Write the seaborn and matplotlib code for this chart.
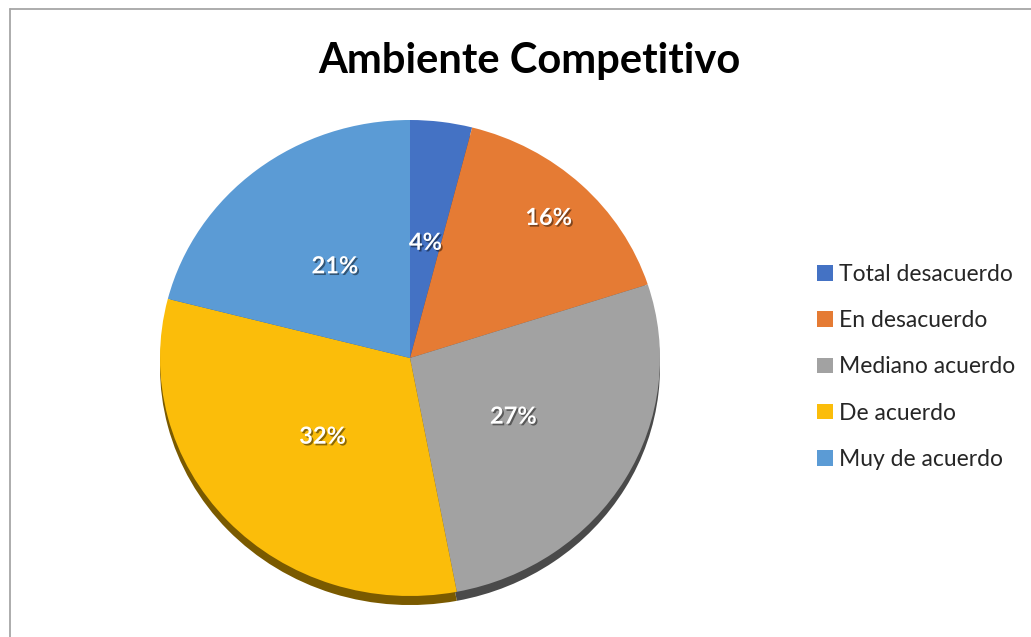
import numpy as np
import matplotlib
matplotlib.use("Agg")
import matplotlib.pyplot as plt
import matplotlib.patheffects as pe
from matplotlib.lines import Line2D
import seaborn as sns

categories = ["Total desacuerdo", "En desacuerdo", "Mediano acuerdo", "De acuerdo", "Muy de acuerdo"]
values = [4, 16, 27, 32, 21]
colors = ["#4472C4", "#E57B34", "#A2A2A2", "#FBBD0A", "#5B9BD5"]
shadow_colors = ["#25407a", "#8a4618", "#4a4a4a", "#7a5a00", "#2f5a86"]
label_dist = [0.49, 0.81, 0.48, 0.48, 0.49]

sns.set_theme(style="white")
plt.rcParams["font.family"] = ["Lato", "DejaVu Sans"]

W, H = 1031, 637
fig = plt.figure(figsize=(W / 100, H / 100), dpi=100)
fig.patch.set_facecolor("white")

# pie area in pixels: centre (410, 358), radii 250 x 238
cx, cy, rx, ry = 410, 358, 250, 238
xl, yl = 1.04, 1.12
ax = fig.add_axes([(cx - rx * xl) / W, (H - cy - ry * yl) / H,
                   2 * rx * xl / W, 2 * ry * yl / H])

# extruded rim underneath the top face
ax.pie(values, colors=shadow_colors, startangle=90, counterclock=False,
       center=(0, -0.038), radius=1.0,
       wedgeprops=dict(linewidth=0, zorder=1))
wedges, _ = ax.pie(values, colors=colors, startangle=90, counterclock=False,
                   radius=1.0, wedgeprops=dict(linewidth=0, zorder=2))
ax.set_aspect("auto")
ax.set_xlim(-xl, xl)
ax.set_ylim(-yl, yl)
ax.axis("off")

# percentage labels at each wedge's mid angle
total = sum(values)
start = 90.0
for v, d in zip(values, label_dist):
    span = 360.0 * v / total
    mid = np.deg2rad(start - span / 2)
    start -= span
    ax.text(d * np.cos(mid), d * np.sin(mid), f"{v}%", color="white",
            fontsize=17, fontweight="bold", ha="center", va="center", zorder=5,
            path_effects=[pe.SimplePatchShadow(offset=(1.2, -1.2), shadow_rgbFace="black", alpha=0.45),
                          pe.Normal()])

fig.text(529 / W, 1 - 73 / H, "Ambiente Competitivo", fontsize=30, fontweight="bold",
         ha="center", va="baseline", color="black")

leg = fig.legend(wedges, categories, loc="upper left",
                 bbox_to_anchor=(817 / W, 1 - 264 / H), frameon=False,
                 fontsize=16.5, handlelength=0.68, handleheight=0.68,
                 handletextpad=0.3, labelspacing=1.1, borderpad=0, borderaxespad=0)

# chart frame
fig.add_artist(Line2D([10 / W, 1.01], [1 - 9 / H, 1 - 9 / H], transform=fig.transFigure,
                      color="#A6A6A6", linewidth=1.3))
fig.add_artist(Line2D([10 / W, 10 / W], [1 - 9 / H, -0.01], transform=fig.transFigure,
                      color="#A6A6A6", linewidth=1.3))

fig.savefig("out.png", dpi=100, facecolor="white")
